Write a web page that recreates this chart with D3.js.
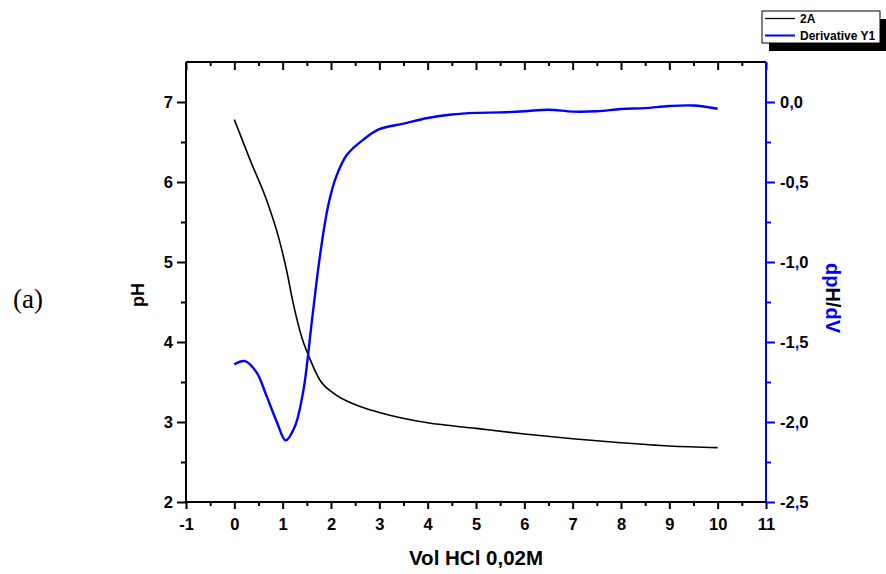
<!DOCTYPE html>
<html>
<head>
<meta charset="utf-8">
<script src="https://cdn.jsdelivr.net/npm/d3@7"></script>
<style>
  body { margin: 0; background: #fff; }
  svg { display: block; font-family: "Liberation Sans", Arial, sans-serif; }
</style>
</head>
<body>
<div id="chart"></div>
<script>
// titration curve (pH) and its derivative
const volPH = [0, 0.33, 0.67, 0.91, 1.08, 1.22, 1.39, 1.57, 1.77, 2.05, 2.53, 3, 4, 5, 6, 7, 8, 9, 10];
const pH = [6.78, 6.27, 5.77, 5.32, 4.9, 4.48, 4.07, 3.78, 3.525, 3.36, 3.21, 3.12, 2.99, 2.92, 2.85, 2.79, 2.74, 2.70, 2.68];

const volDer = [0, 0.22, 0.46, 0.67, 0.88, 1.06, 1.25, 1.43, 1.6, 1.77, 1.94, 2.11, 2.33, 2.67, 3, 3.5, 4, 4.5, 5, 5.5, 6, 6.5, 7, 7.5, 8, 8.5, 9, 9.5, 10];
const dpHdV = [-1.64, -1.62, -1.69, -1.84, -2.0, -2.115, -2.03, -1.80, -1.38, -0.965, -0.65, -0.465, -0.33, -0.235, -0.17, -0.135, -0.1, -0.078, -0.068, -0.065, -0.058, -0.048, -0.06, -0.058, -0.044, -0.038, -0.025, -0.022, -0.042];

const xTicks = [-1, 0, 1, 2, 3, 4, 5, 6, 7, 8, 9, 10, 11];
const yTicks = [2, 3, 4, 5, 6, 7];
const y2Ticks = [0, -0.5, -1, -1.5, -2, -2.5];

const seriesNames = ["2A", "Derivative Y1"];
const seriesColors = ["#000000", "#0000ff"];

const margin = {top: 62, right: 120, bottom: 72, left: 186},
    W = 886, H = 574,
    width = W - margin.left - margin.right,
    height = H - margin.top - margin.bottom;

const svgRoot = d3.select("#chart").append("svg")
    .attr("width", W)
    .attr("height", H);

const svg = svgRoot.append("g")
    .attr("transform", `translate(${margin.left},${margin.top})`);

const x = d3.scaleLinear().domain([-1, 11]).range([0, width]);
const y = d3.scaleLinear().domain([2, 7.5]).range([height, 0]);
const y2 = d3.scaleLinear().domain([-2.5, 0.25]).range([height, 0]);

const halves = (a, b) => d3.range(a, b + 0.001, 1).map(v => v + 0.5).filter(v => v < b);
const intFmt = d => String(d);

// bottom axis
const bottomAx = svg.append("g").attr("transform", `translate(0,${height})`);
bottomAx.append("g")
    .call(d3.axisBottom(x).tickValues(halves(-1, 11)).tickSize(4).tickFormat(""));
bottomAx.append("g")
    .call(d3.axisBottom(x).tickValues(xTicks).tickSize(7).tickPadding(9).tickFormat(intFmt));

// top frame, ticks inside
const topAx = svg.append("g");
topAx.append("g")
    .call(d3.axisTop(x).tickValues(halves(-1, 11)).tickSize(-4).tickFormat(""));
topAx.append("g")
    .call(d3.axisTop(x).tickValues(xTicks).tickSize(-8).tickFormat(""));

// left axis
const leftAx = svg.append("g");
leftAx.append("g")
    .call(d3.axisLeft(y).tickValues([2.5, 3.5, 4.5, 5.5, 6.5]).tickSize(5).tickFormat(""));
leftAx.append("g")
    .call(d3.axisLeft(y).tickValues(yTicks).tickSize(9).tickPadding(4).tickFormat(intFmt));

// right axis (blue)
const rightAx = svg.append("g").attr("transform", `translate(${width},0)`);
rightAx.append("g")
    .call(d3.axisRight(y2).tickValues([-0.25, -0.75, -1.25, -1.75, -2.25]).tickSize(5).tickFormat(""));
rightAx.append("g")
    .attr("class", "y2major")
    .call(d3.axisRight(y2).tickValues(y2Ticks).tickSize(9).tickPadding(5).tickFormat(d => d.toFixed(1)));

svg.selectAll(".domain").attr("stroke-width", 2).attr("stroke", "#000");
svg.selectAll(".tick line").attr("stroke-width", 2).attr("stroke", "#000");
rightAx.selectAll(".domain, .tick line").attr("stroke", "#0000ff");
rightAx.selectAll(".domain").attr("d", `M0,0V${height}`);
bottomAx.selectAll(".domain").attr("d", `M0,0H${width}`);
topAx.selectAll(".domain").attr("d", `M0,0H${width}`);
leftAx.selectAll(".domain").attr("d", `M0,0V${height}`);

svg.selectAll(".tick text")
    .attr("font-family", null)
    .attr("font-size", 16.5)
    .attr("font-weight", "bold")
    .attr("fill", "#000");

// comma shown in blue on the right axis
rightAx.selectAll(".y2major .tick text").each(function(d) {
    const parts = d.toFixed(1).split(".");
    const t = d3.select(this).text(null);
    t.append("tspan").text(parts[0]);
    t.append("tspan").attr("fill", "#0000ff").text(",");
    t.append("tspan").text(parts[1]);
});
svg.selectAll("g").attr("font-family", null);

// curves
const line1 = d3.line()
    .x((d, i) => x(volPH[i]))
    .y(d => y(d))
    .curve(d3.curveMonotoneX);

const line2 = d3.line()
    .x((d, i) => x(volDer[i]))
    .y(d => y2(d))
    .curve(d3.curveCatmullRom.alpha(0.5));

svg.append("path")
    .datum(pH)
    .attr("d", line1)
    .attr("fill", "none")
    .attr("stroke", seriesColors[0])
    .attr("stroke-width", 1.6);

svg.append("path")
    .datum(dpHdV)
    .attr("d", line2)
    .attr("fill", "none")
    .attr("stroke", seriesColors[1])
    .attr("stroke-width", 2.4);

// axis titles
svg.append("text")
    .attr("x", width / 2)
    .attr("y", height + 63)
    .attr("text-anchor", "middle")
    .attr("font-size", 20.5)
    .attr("font-weight", "bold")
    .text("Vol HCl 0,02M");

svg.append("text")
    .attr("transform", `translate(${-42},${233}) rotate(-90)`)
    .attr("text-anchor", "middle")
    .attr("font-size", 18)
    .attr("font-weight", "bold")
    .text("pH");

const y2title = svg.append("text")
    .attr("transform", `translate(${width + 60},${236}) rotate(90)`)
    .attr("text-anchor", "middle")
    .attr("font-size", 20)
    .attr("font-weight", "bold")
    .attr("fill", "#0000ff");
y2title.append("tspan").text("dp");
y2title.append("tspan").attr("fill", "#000").text("H/");
y2title.append("tspan").text("dV");

// panel label
svgRoot.append("text")
    .attr("x", 13)
    .attr("y", 308)
    .style("font-family", "'Liberation Serif', 'Times New Roman', serif")
    .attr("font-size", 27)
    .text("(a)");

// legend box with shadow
const lg = svgRoot.append("g").attr("transform", "translate(762,11)");
lg.append("rect")
    .attr("x", 7).attr("y", 8)
    .attr("width", 118).attr("height", 32)
    .attr("fill", "#000");
lg.append("rect")
    .attr("width", 118).attr("height", 32)
    .attr("fill", "#fff")
    .attr("stroke", "#000")
    .attr("stroke-width", 1);

seriesNames.forEach((name, i) => {
    lg.append("line")
        .attr("x1", 3).attr("x2", 33)
        .attr("y1", 7.5 + i * 17).attr("y2", 7.5 + i * 17)
        .attr("stroke", seriesColors[i])
        .attr("stroke-width", i === 0 ? 1.3 : 2);
    lg.append("text")
        .attr("x", 38)
        .attr("y", 8 + i * 17)
        .attr("dy", "0.35em")
        .attr("font-size", 12)
        .attr("font-weight", "bold")
        .text(name);
});
</script>
</body>
</html>
